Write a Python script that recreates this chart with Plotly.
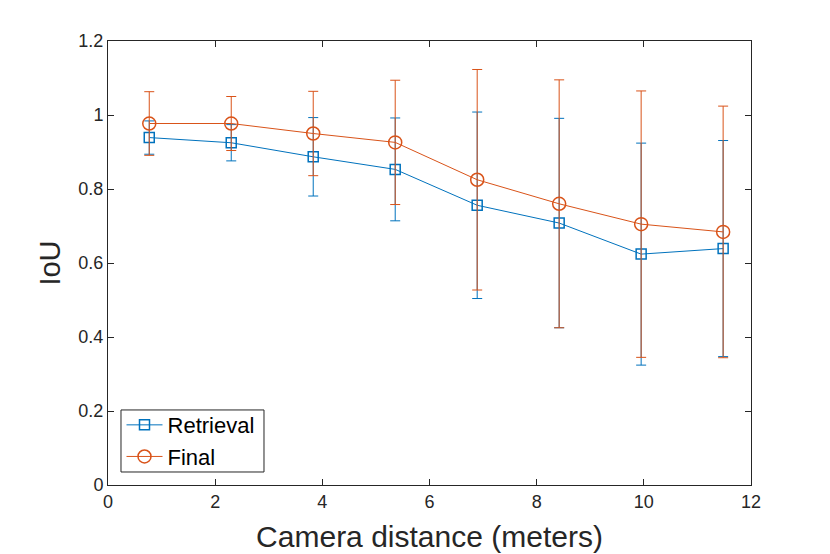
import plotly.graph_objects as go

distance = [0.77, 2.30, 3.83, 5.36, 6.89, 8.42, 9.95, 11.48]

retrieval_iou = [0.939, 0.925, 0.887, 0.853, 0.756, 0.708, 0.624, 0.639]
retrieval_err = [0.045, 0.049, 0.106, 0.139, 0.252, 0.283, 0.300, 0.292]

final_iou = [0.977, 0.977, 0.950, 0.926, 0.825, 0.760, 0.705, 0.684]
final_err = [0.086, 0.073, 0.114, 0.168, 0.298, 0.335, 0.360, 0.340]

blue = '#0072BD'
orange = '#D95319'

fig = go.Figure()
fig.add_trace(go.Scatter(
    x=distance, y=retrieval_iou, name='Retrieval', mode='lines+markers',
    line=dict(color=blue, width=1),
    marker=dict(symbol='square-open', size=10, color=blue, line=dict(width=1.5)),
    error_y=dict(type='data', array=retrieval_err, color=blue, thickness=1, width=5)))
fig.add_trace(go.Scatter(
    x=distance, y=final_iou, name='Final', mode='lines+markers',
    line=dict(color=orange, width=1),
    marker=dict(symbol='circle-open', size=13, color=orange, line=dict(width=1.5)),
    error_y=dict(type='data', array=final_err, color=orange, thickness=1, width=5)))

axis_style = dict(showline=True, linecolor='#262626', linewidth=1, mirror='ticks',
                  ticks='inside', ticklen=6, tickcolor='#262626', showgrid=False,
                  zeroline=False, tickfont=dict(size=18, color='#262626'))

# legend frame drawn as a box (MATLAB style tight border)
fig.add_shape(type='rect', xref='paper', yref='paper',
              x0=0.0202, x1=0.2426, y0=0.0293, y1=0.169,
              line=dict(color='#262626', width=1), fillcolor='rgba(0,0,0,0)', layer='above')

fig.update_layout(
    width=830, height=554,
    margin=dict(l=100, r=87, t=33, b=77),
    paper_bgcolor='white', plot_bgcolor='white',
    font=dict(family='Liberation Sans, Arial, sans-serif', color='#262626'),
    xaxis=dict(range=[0, 12], dtick=2,
               title=dict(text='Camera distance (meters)', font=dict(size=30), standoff=15),
               **axis_style),
    yaxis=dict(range=[0, 1.2], dtick=0.2,
               title=dict(text='IoU', font=dict(size=29), standoff=9),
               **axis_style),
    legend=dict(x=0.021, y=0.099, xanchor='left', yanchor='middle',
                borderwidth=0, bgcolor='rgba(255,255,255,0)',
                font=dict(size=22, color='black'), tracegroupgap=0,
                itemwidth=36),
    showlegend=True,
)

fig.write_html("out.html")
